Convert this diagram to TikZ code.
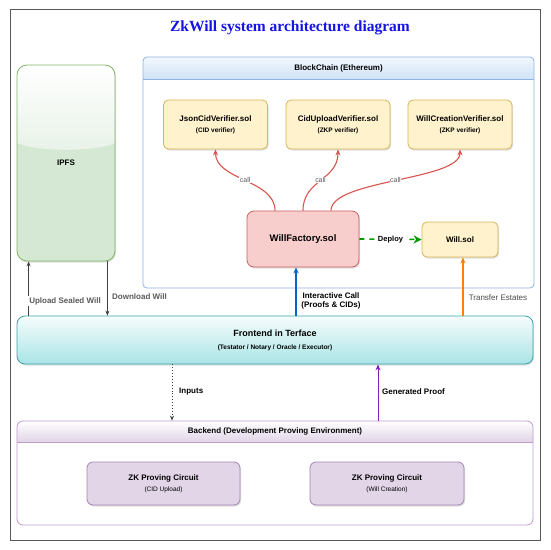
\documentclass[tikz,border=0pt]{standalone}
\usepackage{fontspec}
\setmainfont{Liberation Sans}
\newfontfamily\titlefont{Liberation Serif}
\usetikzlibrary{arrows.meta,shadows}
\definecolor{ylwfill}{HTML}{FFF2CC}
\definecolor{ylwdraw}{HTML}{D6B656}
\definecolor{redfill}{HTML}{F8CECC}
\definecolor{reddraw}{HTML}{C86460}
\definecolor{callred}{HTML}{D9544F}
\definecolor{grnfill}{HTML}{D5E8D4}
\definecolor{grndraw}{HTML}{82B366}
\definecolor{bludraw}{HTML}{8FB3E3}
\definecolor{bluhead}{HTML}{CFE2F7}
\definecolor{tealfill}{HTML}{A9E4E6}
\definecolor{tealdraw}{HTML}{3AA5AA}
\definecolor{purfill}{HTML}{E1D5E7}
\definecolor{purdraw}{HTML}{C09AD0}
\definecolor{zkdraw}{HTML}{A583B5}
\definecolor{icblue}{HTML}{0066CC}
\definecolor{teorange}{HTML}{FF8000}
\definecolor{gppurple}{HTML}{7F22B8}
\definecolor{dgreen}{HTML}{009900}
\definecolor{titleblue}{HTML}{1414E6}
\definecolor{lblgray}{HTML}{5A5A5A}
\tikzset{
  box/.style={rounded corners=5pt, draw, line width=0.8pt, inner sep=0pt, align=center,
    drop shadow={shadow xshift=1pt, shadow yshift=-1.5pt, opacity=0.25}},
  verif/.style={box, fill=ylwfill, draw=ylwdraw, minimum width=104pt, minimum height=49pt,
    font=\fontsize{8}{10}\selectfont},
  zkbox/.style={box, fill=purfill, draw=zkdraw, minimum height=43pt, rounded corners=6pt,
    font=\fontsize{8}{10}\selectfont},
  callarrow/.style={draw=callred, line width=1.1pt, -{Stealth[length=6pt,width=5pt]}},
  calllbl/.style={fill=white, inner sep=0.5pt, font=\fontsize{7}{8}\selectfont, text=lblgray},
  darkarrow/.style={draw=black!75, line width=0.8pt, -{Stealth[length=5pt,width=4pt]}},
  lbl/.style={font=\bfseries\fontsize{8}{9.5}\selectfont, align=center},
}
\begin{document}
\begin{tikzpicture}[x=1pt,y=-1pt]
\useasboundingbox (0,0) rectangle (550,550);
\fill[white] (0,0) rectangle (550,550);
\draw[black!65, line width=0.8pt] (10,9) rectangle (540,540);

% title
\node[font=\titlefont\bfseries\fontsize{15.5}{18}\selectfont, text=titleblue] (title) at (290,28) {ZkWill system architecture diagram};

% BlockChain container
\begin{scope}
\clip[rounded corners=4pt] (143,57) rectangle (534,288);
\shade[top color=bluhead!25!white, bottom color=bluhead] (143,57) rectangle (534,79);
\end{scope}
\draw[bludraw, line width=0.7pt] (143,79) -- (534,79);
\node[draw=bludraw, line width=0.8pt, rounded corners=4pt, minimum width=391pt, minimum height=231pt, inner sep=0pt] (bc) at (338.5,172.5) {};
\node[font=\bfseries\fontsize{8}{9}\selectfont] (bctitle) at (338.5,68) {BlockChain (Ethereum)};

% verifiers
\node[verif] (json) at (215.5,124.5) {\textbf{JsonCidVerifier.sol}\\[1pt]{\fontsize{6.5}{8}\selectfont\bfseries (CID verifier)}};
\node[verif] (cid) at (338,124.5) {\textbf{CidUploadVerifier.sol}\\[1pt]{\fontsize{6.5}{8}\selectfont\bfseries (ZKP verifier)}};
\node[verif] (wcv) at (460,124.5) {\textbf{WillCreationVerifier.sol}\\[1pt]{\fontsize{6.5}{8}\selectfont\bfseries (ZKP verifier)}};

% factory and will
\node[box, fill=redfill, draw=reddraw, minimum width=112pt, minimum height=56pt, rounded corners=7pt, font=\bfseries\fontsize{9.5}{11}\selectfont] (wf) at (303,239) {WillFactory.sol};
\node[box, fill=ylwfill, draw=ylwdraw, minimum width=76pt, minimum height=35pt, font=\bfseries\fontsize{8}{10}\selectfont] (will) at (460,239.5) {Will.sol};

% IPFS
\fill[grnfill, rounded corners=10pt, drop shadow={shadow xshift=1pt, shadow yshift=-1.5pt, opacity=0.25}] (17,65) rectangle (115,261);
\begin{scope}
\clip[rounded corners=10pt] (17,65) rectangle (115,261);
\shade[top color=white, bottom color=grnfill!55!white] (17,65) -- (115,65) -- (115,143) .. controls (95,152) and (37,152) .. (17,143) -- cycle;
\end{scope}
\node[draw=grndraw, line width=0.8pt, rounded corners=10pt, minimum width=98pt, minimum height=196pt, inner sep=0pt, font=\bfseries\fontsize{8}{10}\selectfont] (ipfs) at (66,163) {IPFS};

% Frontend
\node[box, top color=tealfill!10!white, bottom color=tealfill, draw=tealdraw, minimum width=516pt, minimum height=48pt, rounded corners=8pt, font=\fontsize{9}{11}\selectfont] (front) at (275,340) {\textbf{Frontend in Terface}\\[2pt]{\fontsize{6.5}{8}\selectfont\bfseries (Testator / Notary / Oracle / Executor)}};

% Backend container
\begin{scope}
\clip[rounded corners=6pt] (17,421) rectangle (533,525);
\shade[top color=white, bottom color=purfill] (17,421) rectangle (533,442);
\end{scope}
\draw[purdraw, line width=0.7pt] (17,442) -- (533,442);
\node[draw=purdraw, line width=0.8pt, rounded corners=6pt, minimum width=516pt, minimum height=104pt, inner sep=0pt] (backend) at (275,473) {};
\node[font=\bfseries\fontsize{8}{9}\selectfont] (behdr) at (275,431.5) {Backend (Development Proving Environment)};
\node[zkbox, minimum width=153pt] (zk1) at (163.5,483.5) {\textbf{ZK Proving Circuit}\\[1pt]{\fontsize{6.5}{8}\selectfont (CID Upload)}};
\node[zkbox, minimum width=154pt] (zk2) at (387,483.5) {\textbf{ZK Proving Circuit}\\[1pt]{\fontsize{6.5}{8}\selectfont (Will Creation)}};

% call arrows
\draw[callarrow] ([xshift=-28pt]wf.north) .. controls +(0,-31) and +(0,31) .. (json.south) node[calllbl, pos=0.5] (call1) {call};
\draw[callarrow] (wf.north) .. controls +(0,-31) and +(0,31) .. (cid.south) node[calllbl, pos=0.5] (call2) {call};
\draw[callarrow] ([xshift=28pt]wf.north) .. controls +(0,-31) and +(0,31) .. (wcv.south) node[calllbl, pos=0.5] (call3) {call};

% deploy
\draw[dgreen, line width=1.6pt, dash pattern=on 5pt off 5pt, -{Stealth[length=8pt,width=8pt]}] (wf.east) -- (will.west) node[midway, fill=white, inner sep=1.5pt, text=black, font=\bfseries\fontsize{7.5}{9}\selectfont] (deploy) {Deploy};

% interactive call and transfer
\draw[icblue, line width=1.2pt, -{Stealth[length=6pt,width=5pt]}] ([xshift=-7pt]wf.south |- front.north) -- ([xshift=-7pt]wf.south);
\node[lbl] (iclbl) at (331,301) {Interactive Call\\(Proofs \& CIDs)};
\draw[teorange, line width=1.2pt, -{Stealth[length=6pt,width=5pt]}] ([xshift=3pt]will.south |- front.north) -- ([xshift=3pt]will.south);
\node[font=\fontsize{8}{9}\selectfont, text=black!70] (telbl) at (498,298) {Transfer Estates};

% IPFS arrows
\draw[darkarrow] ([xshift=12pt]ipfs.south west |- front.north) -- ([xshift=12pt]ipfs.south west);
\node[lbl, fill=white, text=lblgray, inner sep=1pt] (uplbl) at (65,301) {Upload Sealed Will};
\draw[darkarrow] ([xshift=-8pt]ipfs.south east) -- ([xshift=-8pt]ipfs.south east |- front.north);
\node[lbl, text=lblgray, anchor=west, inner sep=0pt] (dllbl) at (112,297) {Download Will};

% inputs and generated proof
\draw[black!75, line width=0.9pt, dotted, -{Stealth[length=5pt,width=4pt]}] ([xshift=-103pt]front.south) -- ([xshift=-103pt]front.south |- backend.north);
\node[lbl, anchor=west, inner sep=0pt] (inlbl) at (179,392) {Inputs};
\draw[gppurple, line width=1pt, -{Stealth[length=6pt,width=5pt]}] ([xshift=103pt]backend.north) -- ([xshift=103pt]backend.north |- front.south);
\node[lbl, anchor=west, inner sep=0pt] (gplbl) at (382,392) {Generated Proof};
\end{tikzpicture}
\end{document}
